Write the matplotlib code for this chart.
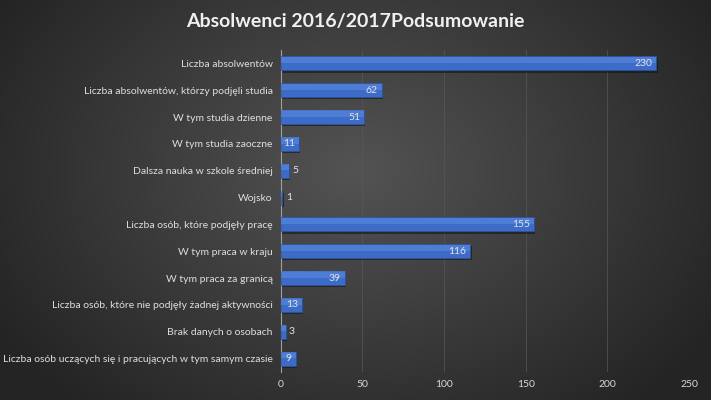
import numpy as np
import matplotlib.pyplot as plt
from matplotlib.colors import LinearSegmentedColormap

categories = [
    'Liczba absolwentów',
    'Liczba absolwentów, którzy podjęli studia',
    'W tym studia dzienne',
    'W tym studia zaoczne',
    'Dalsza nauka w szkole średniej',
    'Wojsko',
    'Liczba osób, które podjęły pracę',
    'W tym praca w kraju',
    'W tym praca za granicą',
    'Liczba osób, które nie podjęły żadnej aktywności',
    'Brak danych o osobach',
    'Liczba osób uczących się i pracujących w tym samym czasie',
]
values = [230, 62, 51, 11, 5, 1, 155, 116, 39, 13, 3, 9]
x_ticks = [0, 50, 100, 150, 200, 250]

plt.rcParams['font.family'] = ['Lato', 'DejaVu Sans']

fig = plt.figure(figsize=(7.11, 4.0), dpi=100)

# radial gradient background, lighter around the upper middle
bg = fig.add_axes([0, 0, 1, 1])
yy, xx = np.mgrid[0:400, 0:711]
r = np.sqrt(((xx - 355) / 400.0) ** 2 + ((yy - 170) / 300.0) ** 2)
bg_cmap = LinearSegmentedColormap.from_list('bg', ['#535353', '#3c3c3c', '#242424'])
bg.imshow(r, cmap=bg_cmap, aspect='auto', vmin=0, vmax=1.05)
bg.axis('off')

ax = fig.add_axes([0.395, 0.07, 0.574, 0.805])
ax.set_facecolor('none')

y = np.arange(len(categories))
bar_h = 0.52

# shadow
ax.barh(y + 0.08, values, height=bar_h, left=0.8, color='#151515', alpha=0.6, zorder=2)
ax.barh(y, values, height=bar_h, color='#3d6cc8', edgecolor='#2a55a8', linewidth=0.5, zorder=3)
# lighter top strip for a glossy look
ax.barh(y - bar_h * 0.25, values, height=bar_h * 0.45, color='#5b8ae0', alpha=0.6, zorder=4, linewidth=0)

for yi, v in zip(y, values):
    if v >= 9:
        ax.text(v - 2.5, yi, str(v), ha='right', va='center', color='#e4e4e4', fontsize=7.5, zorder=5)
    else:
        ax.text(v + 2, yi, str(v), ha='left', va='center', color='#e4e4e4', fontsize=7.5, zorder=5)

ax.set_xlim(0, 250)
ax.set_ylim(len(categories) - 0.5, -0.5)
ax.set_yticks(y)
ax.set_yticklabels(categories, color='#dedede', fontsize=7.5)
ax.set_xticks(x_ticks)
ax.set_xticklabels([str(t) for t in x_ticks], color='#d8d8d8', fontsize=7.5)
ax.tick_params(axis='both', length=0, pad=6)
ax.grid(axis='x', color='#585858', linewidth=0.5, zorder=0)
for s in ['top', 'right', 'bottom']:
    ax.spines[s].set_visible(False)
ax.spines['left'].set_color('#a0a0a0')
ax.spines['left'].set_linewidth(0.8)

fig.text(0.5, 0.945, 'Absolwenci 2016/2017Podsumowanie', ha='center', va='center',
         color='#f0f0f0', fontsize=14, fontweight='bold')

fig.savefig('out.png', dpi=100)
